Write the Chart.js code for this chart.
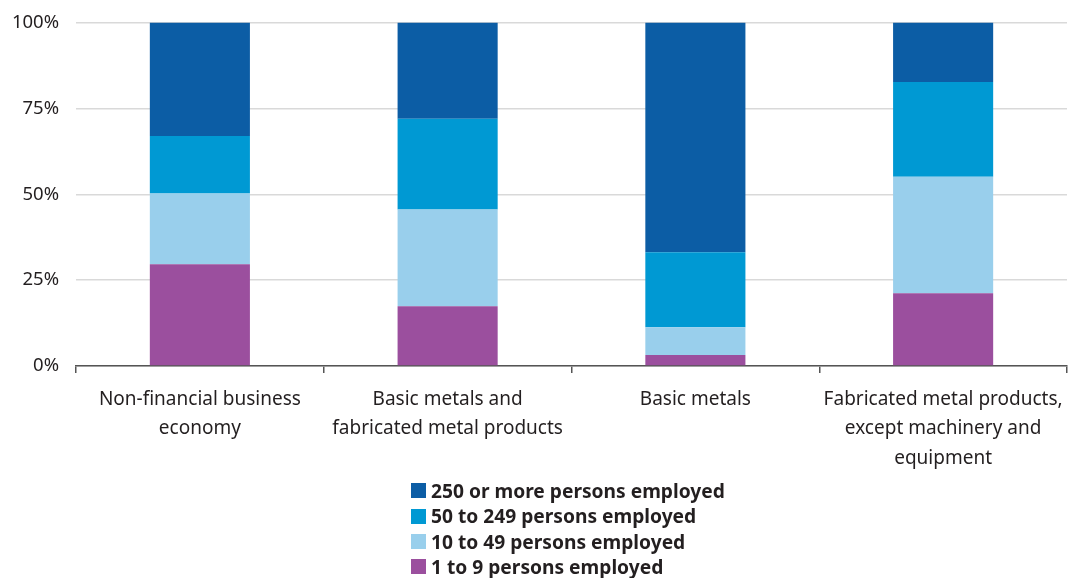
<!DOCTYPE html>
<html>
<head>
<meta charset="utf-8">
<script src="https://cdn.jsdelivr.net/npm/chart.js@4.4.1/dist/chart.umd.min.js"></script>
<style>
  body { margin: 0; background: #fff; }
  #wrap { position: relative; width: 1069px; height: 578px; overflow: hidden; }
  #legend { position: absolute; left: 411px; top: 478px; font-family: "Noto Sans", sans-serif;
            font-weight: bold; font-size: 19.2px; color: #231f20; }
  #legend div { height: 25.4px; line-height: 25.4px; display: flex; align-items: center; }
  #legend span.box { display: inline-block; width: 15px; height: 15px; margin-right: 5px; }
</style>
</head>
<body>
<div id="wrap">
  <canvas id="basicChart" width="1069" height="578"></canvas>
  <div id="legend"></div>
</div>
<script>
const chart1 = document.getElementById("basicChart");
const legendBox = document.getElementById("legend");

// categories (multi-line labels as in the source)
var categories = [
    ["Non-financial business", "economy"],
    ["Basic metals and", "fabricated metal products"],
    ["Basic metals"],
    ["Fabricated metal products,", "except machinery and", "equipment"]
];
// shares in %
var micro  = [29.6, 17.4, 3.2, 21.2];    // 1 to 9
var small  = [20.6, 28.2, 8.1, 33.9];    // 10 to 49
var medium = [16.8, 26.4, 21.8, 27.6];   // 50 to 249
var large  = [33.0, 28.0, 66.9, 17.3];   // 250 or more
var yTicks = [0, 25, 50, 75, 100];

var seriesNames = ["1 to 9 persons employed", "10 to 49 persons employed",
                   "50 to 249 persons employed", "250 or more persons employed"];
var seriesColors = ["#9b4f9e", "#99cfec", "#0099d3", "#0c5da5"];
var seriesData = [micro, small, medium, large];

var datasets = [];
for (var i = 0; i < seriesData.length; i++) {
    datasets.push({
        label: seriesNames[i],
        data: seriesData[i],
        backgroundColor: seriesColors[i],
        borderWidth: 0,
        categoryPercentage: 1,
        barPercentage: 0.404
    });
}

var scienceChart = new Chart(chart1, {
    type: 'bar',
    data: { labels: categories, datasets: datasets },
    options: {
        responsive: false,
        animation: false,
        layout: { padding: { top: 21, right: 2, bottom: 100, left: 0 } },
        plugins: { legend: { display: false }, tooltip: { enabled: false } },
        scales: {
            x: {
                stacked: true,
                grid: { offset: true, drawOnChartArea: false, tickLength: 7, color: '#555', lineWidth: 1.5 },
                border: { color: '#555', width: 1.5 },
                ticks: {
                    padding: 12,
                    color: '#231f20',
                    font: { family: 'Noto Sans', size: 19, lineHeight: 1.54 }
                },
                afterFit: function (axis) {
                    axis.height = 112;
                    axis.paddingLeft = 0;
                    axis.paddingRight = 0;
                }
            },
            y: {
                stacked: true,
                min: 0,
                max: 100,
                afterBuildTicks: function (axis) {
                    axis.ticks = yTicks.map(function (v) { return { value: v }; });
                },
                grid: { color: '#d9d9d9', lineWidth: 1.5, drawTicks: false },
                border: { display: false },
                ticks: {
                    padding: 17,
                    color: '#231f20',
                    font: { family: 'Noto Sans', size: 18.5, lineHeight: 0.6 },
                    callback: function (v) { return v + '%'; }
                },
                afterFit: function (axis) { axis.width = 76; }
            }
        }
    }
});

// legend, listed top-down like the source (largest class first)
for (var j = datasets.length - 1; j >= 0; j--) {
    var row = document.createElement("div");
    var box = document.createElement("span");
    box.className = "box";
    box.style.background = datasets[j].backgroundColor;
    row.appendChild(box);
    row.appendChild(document.createTextNode(datasets[j].label));
    legendBox.appendChild(row);
}
</script>
</body>
</html>
